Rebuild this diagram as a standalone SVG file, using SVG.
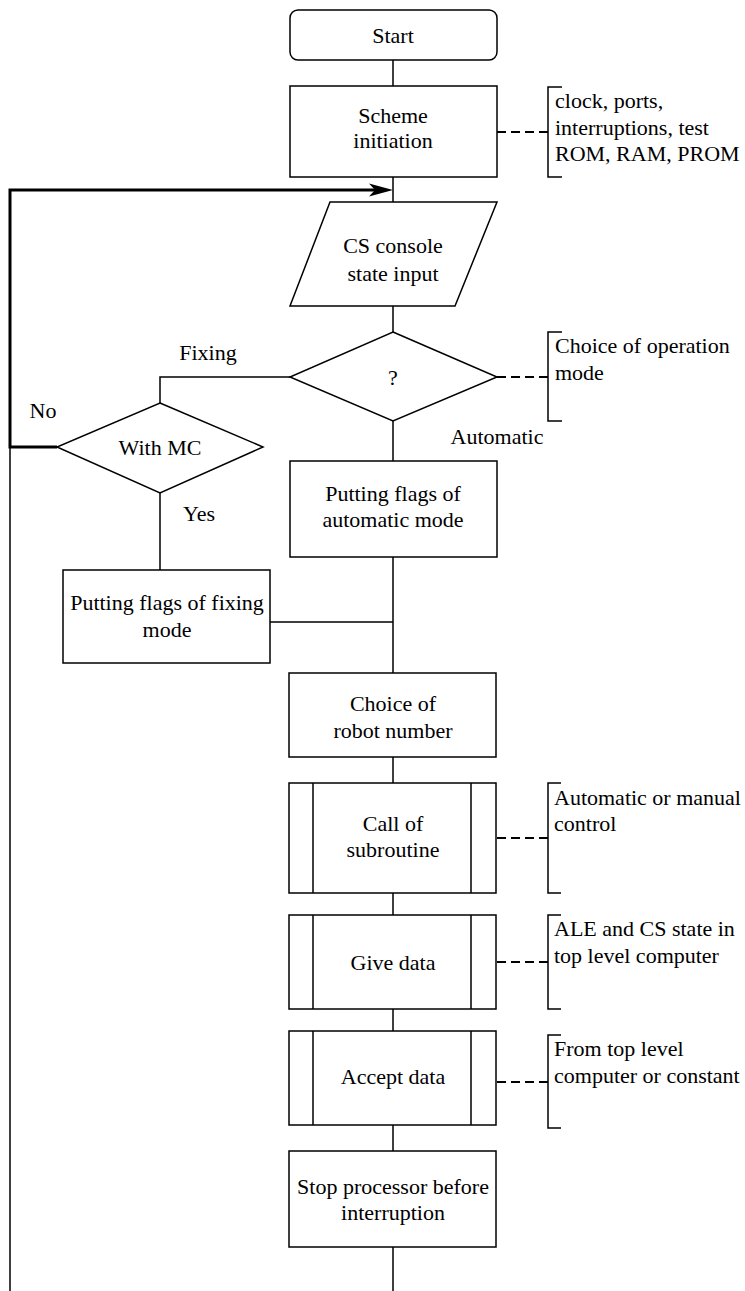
<svg xmlns="http://www.w3.org/2000/svg" width="745" height="1291" viewBox="0 0 745 1291">
<style>
.b{fill:#fff;stroke:#000;stroke-width:1.5}
.l{fill:none;stroke:#000;stroke-width:1.5}
.t{fill:none;stroke:#000;stroke-width:3}
.d{fill:none;stroke:#000;stroke-width:2;stroke-dasharray:9 5}
text{font-family:'Liberation Serif','Times New Roman',serif;font-size:22px;fill:#000}
.c{text-anchor:middle}
</style>
<rect width="745" height="1291" fill="#fff"/>
<g id="connectors">
<path class="l" d="M393 60V86M393 177V202M393 306V332M393 421V461M393 557V673M393 757V783M393 893V915M393 1009V1031M393 1125V1151M393 1247V1291"/>
<path class="l" d="M290 377H160V403M160 493V570M270 622H393"/>
<path class="t" d="M57 447H10V190H378"/>
<polygon points="393,190 369,183.5 375,190 369,196.5" fill="#000"/>
<path class="l" d="M10 447V1291"/>
<path class="d" d="M497 132H548M497 377H548M497 838H548M497 962H548M497 1082H548"/>
<path class="l" d="M562 87H548V177H562M562 332H548V421H562M561 783H548V893H561M561 915H548V1009H561M561 1035H548V1128H561"/>
</g>
<g id="start"><rect class="b" x="290" y="10" width="207" height="50" rx="8"/><text class="c" x="393" y="43">Start</text></g>
<g id="init"><rect class="b" x="290" y="86" width="207" height="91"/><text class="c" x="393" y="123">Scheme</text><text class="c" x="393" y="148">initiation</text></g>
<g id="note-init"><text x="555" y="108">clock, ports,</text><text x="555" y="135">interruptions, test</text><text x="555" y="161">ROM, RAM, PROM</text></g>
<g id="input"><polygon class="b" points="330,202 497,202 455,306 290,306"/><text class="c" x="393" y="253">CS console</text><text class="c" x="393" y="281">state input</text></g>
<g id="mode"><polygon class="b" points="393,332 497,377 393,421 290,377"/><text class="c" x="393" y="385">?</text></g>
<g id="note-mode"><text x="555" y="353">Choice of operation</text><text x="555" y="380">mode</text></g>
<text class="c" x="208" y="360">Fixing</text>
<text class="c" x="497" y="444">Automatic</text>
<g id="withmc"><polygon class="b" points="160,403 263,447 160,493 57,447"/><text class="c" x="160" y="455">With MC</text></g>
<text class="c" x="43" y="418">No</text>
<text class="c" x="199" y="521">Yes</text>
<g id="auto"><rect class="b" x="290" y="461" width="207" height="96"/><text class="c" x="393" y="501">Putting flags of</text><text class="c" x="393" y="527">automatic mode</text></g>
<g id="fixing"><rect class="b" x="63" y="570" width="207" height="93"/><text class="c" x="167" y="610">Putting flags of fixing</text><text class="c" x="167" y="637">mode</text></g>
<g id="robot"><rect class="b" x="289" y="673" width="207" height="84"/><text class="c" x="393" y="711">Choice of</text><text class="c" x="393" y="738">robot number</text></g>
<g id="call"><rect class="b" x="289" y="783" width="207" height="110"/><path class="l" d="M313 783V893M471 783V893"/><text class="c" x="393" y="831">Call of</text><text class="c" x="393" y="857">subroutine</text></g>
<g id="note-call"><text x="554" y="805">Automatic or manual</text><text x="554" y="831">control</text></g>
<g id="give"><rect class="b" x="289" y="915" width="207" height="94"/><path class="l" d="M313 915V1009M471 915V1009"/><text class="c" x="393" y="970">Give data</text></g>
<g id="note-give"><text x="554" y="936">ALE and CS state in</text><text x="554" y="963">top level computer</text></g>
<g id="accept"><rect class="b" x="289" y="1031" width="207" height="94"/><path class="l" d="M313 1031V1125M471 1031V1125"/><text class="c" x="393" y="1084">Accept data</text></g>
<g id="note-accept"><text x="554" y="1056">From top level</text><text x="554" y="1083">computer or constant</text></g>
<g id="stop"><rect class="b" x="289" y="1151" width="207" height="96"/><text class="c" x="393" y="1194">Stop processor before</text><text class="c" x="393" y="1220">interruption</text></g>
</svg>
